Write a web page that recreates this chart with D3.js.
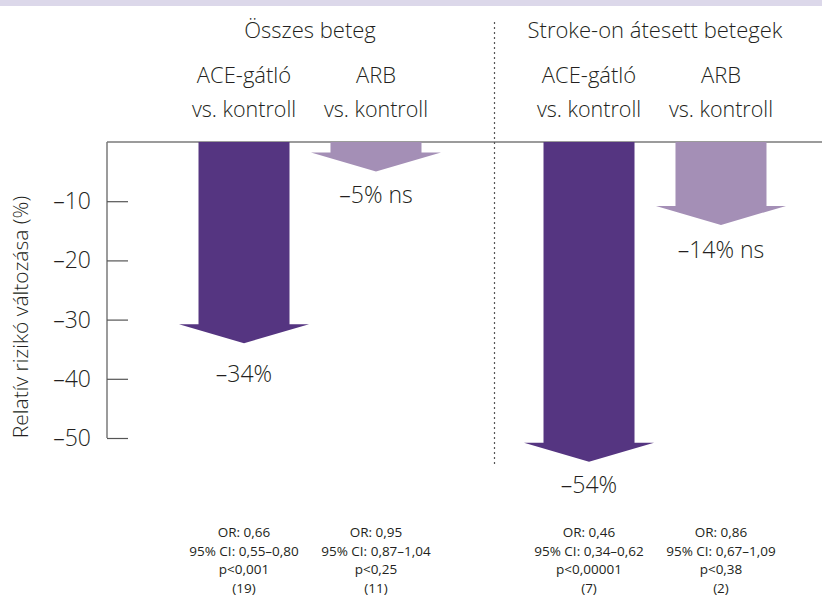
<!DOCTYPE html>
<html><head><meta charset="utf-8">
<script src="https://cdn.jsdelivr.net/npm/d3@7"></script>
<style>body{margin:0;background:#fff}svg{display:block}text{font-family:"Open Sans",Lato,sans-serif;font-weight:300;fill:#231f20}text.st{font-weight:400}</style>
</head><body><svg id="c" width="822" height="603"></svg>
<script>
const groups = ["Összes beteg", "Stroke-on átesett betegek"];
const subgroups = ["ACE-gátló", "ARB"];
const values = [[-34, -5], [-54, -14]];
const valueLabels = [["–34%", "–5% ns"], ["–54%", "–14% ns"]];
const stats = [
  [["OR: 0,66", "95% CI: 0,55–0,80", "p<0,001", "(19)"], ["OR: 0,95", "95% CI: 0,87–1,04", "p<0,25", "(11)"]],
  [["OR: 0,46", "95% CI: 0,34–0,62", "p<0,00001", "(7)"], ["OR: 0,86", "95% CI: 0,67–1,09", "p<0,38", "(2)"]]
];
const yTicks = [-10, -20, -30, -40, -50];
const yTickLabels = ["–10", "–20", "–30", "–40", "–50"];
const yTitle = "Relatív rizikó változása (%)";

// layout: gap between arrow tip and its value label baseline
const labelGap = [[39, 31], [31, 33]];

const colors = {"ACE-gátló": "#553581", "ARB": "#a48fb6"};
const svg = d3.select("#c");
svg.append("rect").attr("x",0).attr("y",0).attr("width",822).attr("height",6).attr("fill","#dcd8ea");

const y = d3.scaleLinear().domain([0, -50]).range([142, 438]);
const x0 = d3.scaleBand().domain(groups).range([137.5, 827.5]);
const x1 = d3.scalePoint().domain(subgroups).range([0, x0.bandwidth()]).padding(0.807);
const axisX = 107;

// baseline
svg.append("line").attr("x1",axisX).attr("x2",822).attr("y1",y(0)).attr("y2",y(0)).attr("stroke","#7a7a7a").attr("stroke-width",1.5);
// y axis
const yAxis = d3.axisRight(y).tickValues(yTicks).tickSize(21).tickFormat("");
const ga = svg.append("g").attr("transform",`translate(${axisX},0)`).call(yAxis);
ga.select(".domain").attr("d",`M0,${y(0)}V${y(-50)}`).attr("stroke","#7a7a7a").attr("stroke-width",1.5);
ga.selectAll(".tick line").attr("stroke","#555").attr("stroke-width",1.2);
svg.selectAll(".ylab").data(yTicks).enter().append("text")
  .attr("x",91).attr("y",d=>y(d)+8).attr("text-anchor","end").attr("font-size",23).text((d,i)=>yTickLabels[i]);
svg.append("text").attr("transform",`translate(28,${(y(-50)+y(0))/2+27}) rotate(-90)`)
  .attr("text-anchor","middle").attr("font-size",21).text(yTitle);

// divider
const divX = x0(groups[1]) + 12;
svg.append("line").attr("x1",divX).attr("x2",divX).attr("y1",22).attr("y2",465)
  .attr("stroke","#555").attr("stroke-width",1.2).attr("stroke-dasharray","2,3");

const shaftW = 91, headW = 130, headH = 19;
groups.forEach((g, gi) => {
  const gc = x0(g) + x0.bandwidth()/2;
  svg.append("text").attr("x",gc).attr("y",38).attr("text-anchor","middle").attr("font-size",22).text(g);
  subgroups.forEach((s, si) => {
    const cx = x0(g) + x1(s);
    const v = values[gi][si];
    const top = y(0), tip = y(v), hb = tip - headH;
    const path = d3.path();
    path.moveTo(cx - shaftW/2, top);
    path.lineTo(cx + shaftW/2, top);
    path.lineTo(cx + shaftW/2, hb);
    path.lineTo(cx + headW/2, hb);
    path.lineTo(cx, tip);
    path.lineTo(cx - headW/2, hb);
    path.lineTo(cx - shaftW/2, hb);
    path.closePath();
    svg.append("path").attr("d", path.toString()).attr("fill", colors[s]);
    svg.append("text").attr("x",cx).attr("y",83).attr("text-anchor","middle").attr("font-size",22).text(s);
    svg.append("text").attr("x",cx).attr("y",117).attr("text-anchor","middle").attr("font-size",21.5).text("vs. kontroll");
    svg.append("text").attr("x",cx).attr("y",tip+labelGap[gi][si]).attr("text-anchor","middle").attr("font-size",23).text(valueLabels[gi][si]);
    stats[gi][si].forEach((t, li) => {
      svg.append("text").attr("class","st").attr("x",cx).attr("y",537 + li*18.5).attr("text-anchor","middle").attr("font-size",13.5).text(t);
    });
  });
});
</script></body></html>
